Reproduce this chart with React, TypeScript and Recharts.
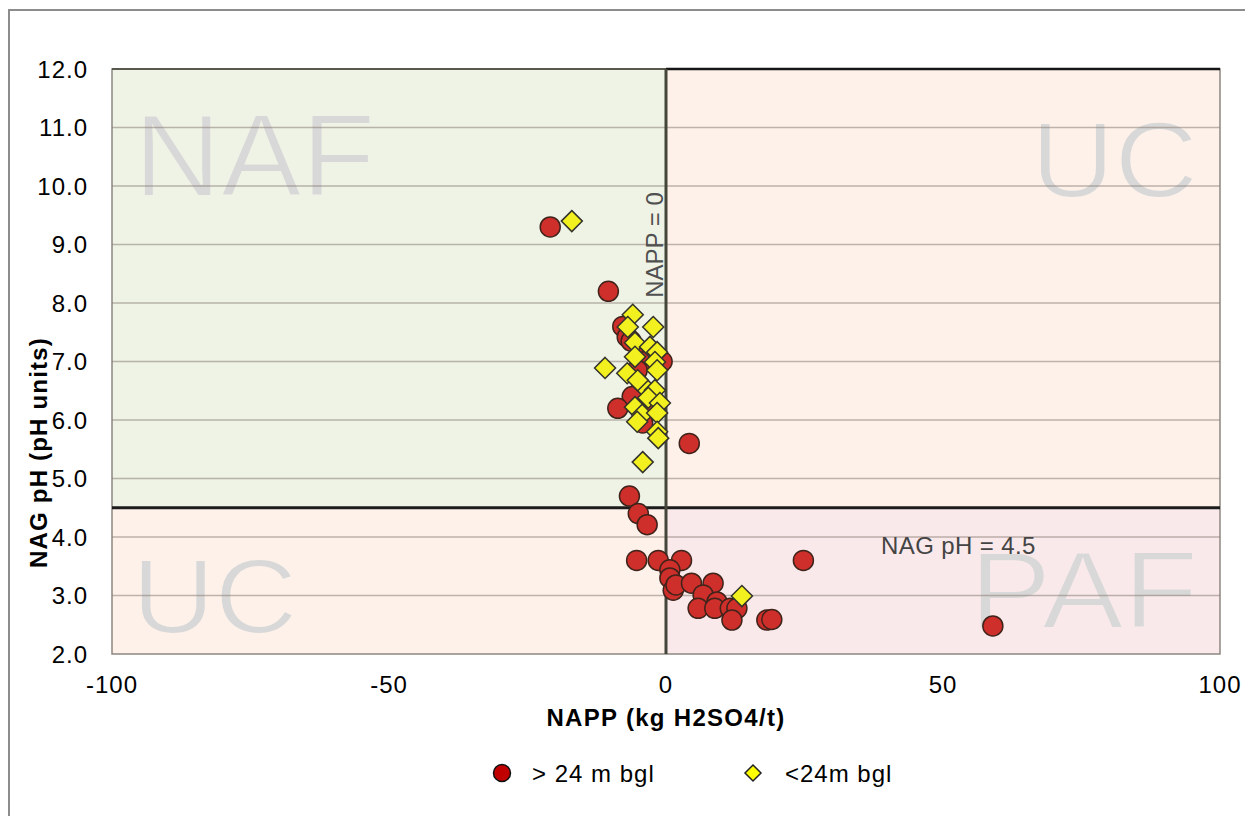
import React from 'react';
import { ScatterChart, Scatter, XAxis, YAxis, ReferenceArea, ReferenceLine, Legend } from 'recharts';

// NAPP (kg H2SO4/t), NAG pH
const deepSamples: [number, number][] = [
  [-20.9, 9.3], [-10.4, 8.2],
  [-7.8, 7.6], [-7.0, 7.42], [-6.3, 7.35], [-4.5, 7.1], [-3.8, 7.0], [-5.2, 6.85],
  [-0.7, 7.0], [-6.1, 6.4], [-8.7, 6.2], [-3.0, 6.3], [-4.2, 5.95],
  [4.2, 5.6],
  [-6.6, 4.7], [-5.0, 4.4], [-3.4, 4.21],
  [-5.3, 3.6], [-1.4, 3.6], [2.8, 3.6], [24.8, 3.6],
  [0.7, 3.44], [0.7, 3.3], [1.3, 3.09], [1.8, 3.18], [4.6, 3.21], [8.5, 3.21],
  [6.7, 3.01], [9.2, 2.89], [5.8, 2.78], [8.8, 2.78], [11.6, 2.78], [12.8, 2.78],
  [11.9, 2.58], [18.2, 2.58], [19.1, 2.59],
  [59.0, 2.48],
];

const shallowSamples: [number, number][] = [
  [-17.0, 9.4],
  [-6.0, 7.8], [-6.9, 7.59], [-2.3, 7.59], [-11.0, 6.89], [-7.0, 6.8],
  [-5.6, 7.32], [-5.6, 7.08], [-2.9, 7.25], [-1.6, 7.16], [-2.0, 6.99], [-1.6, 6.85],
  [-4.3, 6.6], [-5.1, 6.68], [-2.0, 6.51], [-3.2, 6.38], [-1.1, 6.29], [-5.6, 6.22],
  [-4.3, 6.09], [-5.2, 5.97], [-1.6, 6.12], [-1.6, 5.8], [-1.4, 5.69], [-4.2, 5.28],
  [13.7, 2.99],
];

const xTicks = [-100, -50, 0, 50, 100];
const yTicks = [2, 3, 4, 5, 6, 7, 8, 9, 10, 11, 12];
const xDomain: [number, number] = [-100, 100];
const yDomain: [number, number] = [2, 12];
const nappThreshold = 0;
const nagThreshold = 4.5;

const seriesNames = ['> 24 m bgl', '<24m bgl'];
const quadrantLabels = ['NAF', 'UC', 'UC', 'PAF'];

const deepData = deepSamples.map(([x, y]) => ({ x, y }));
const shallowData = shallowSamples.map(([x, y]) => ({ x, y }));

const FONT = "'Liberation Sans', Arial, sans-serif";

type QuadStyle = {
  fill: string;
  anchor: 'start' | 'end';
  dx: number;
  fromTop: boolean;
  dy: number;
  size: number;
  sx: number;
};

const quadrants = [
  { label: quadrantLabels[0], x1: xDomain[0], x2: nappThreshold, y1: nagThreshold, y2: yDomain[1],
    style: { fill: '#eff3e6', anchor: 'start', dx: 22, fromTop: true, dy: 127, size: 116, sx: 1.04 } as QuadStyle },
  { label: quadrantLabels[1], x1: nappThreshold, x2: xDomain[1], y1: nagThreshold, y2: yDomain[1],
    style: { fill: '#fdf1ea', anchor: 'end', dx: -22, fromTop: true, dy: 128, size: 108, sx: 1.07 } as QuadStyle },
  { label: quadrantLabels[2], x1: xDomain[0], x2: nappThreshold, y1: yDomain[0], y2: nagThreshold,
    style: { fill: '#fdf1ea', anchor: 'start', dx: 20, fromTop: false, dy: -21, size: 106, sx: 1.08 } as QuadStyle },
  { label: quadrantLabels[3], x1: nappThreshold, x2: xDomain[1], y1: yDomain[0], y2: nagThreshold,
    style: { fill: '#f9e9ea', anchor: 'end', dx: -22, fromTop: false, dy: -26, size: 110, sx: 1.11 } as QuadStyle },
];

const makeQuadShape = (label: string, s: QuadStyle) => (props: any) => {
  const { x, y, width, height } = props;
  const tx = s.anchor === 'start' ? x + s.dx : x + width + s.dx;
  const ty = s.fromTop ? y + s.dy : y + height + s.dy;
  return (
    <g>
      <rect x={x} y={y} width={width} height={height} fill={s.fill} />
      <text
        x={0}
        y={0}
        transform={`translate(${tx} ${ty}) scale(${s.sx} 1)`}
        textAnchor={s.anchor}
        fontFamily={FONT}
        fontSize={s.size}
        fill="#d8d8d8"
        stroke={s.fill}
        strokeWidth={2}
        paintOrder="fill"
      >
        {label}
      </text>
    </g>
  );
};

const RedDot = (p: any) => (
  <circle cx={p.cx} cy={p.cy} r={10} fill="#cf2f2a" stroke="#40231b" strokeWidth={1.5} />
);

const YellowDiamond = (p: any) => {
  const s = 10.5;
  return (
    <polygon
      points={`${p.cx},${p.cy - s} ${p.cx + s},${p.cy} ${p.cx},${p.cy + s} ${p.cx - s},${p.cy}`}
      fill="#f3f01f"
      stroke="#33332a"
      strokeWidth={1.5}
    />
  );
};

const renderLegend = () => (
  <svg width={1220} height={40} style={{ display: 'block' }}>
    <circle cx={502} cy={22} r={8.5} fill="#c00000" stroke="#111" strokeWidth={1.5} />
    <text x={532} y={31} fontFamily={FONT} fontSize={24} letterSpacing={1} fill="#000">
      {seriesNames[0]}
    </text>
    <polygon points="753,14 761,22 753,30 745,22" fill="#ffff00" stroke="#222" strokeWidth={1.5} />
    <text x={785} y={31} fontFamily={FONT} fontSize={24} letterSpacing={1} fill="#000">
      {seriesNames[1]}
    </text>
  </svg>
);

const tickStyle = { fontFamily: FONT, fontSize: 24, fill: '#000', letterSpacing: 1 };

export default function App() {
  return (
    <div style={{ position: 'absolute', left: 0, top: 0, width: 1245, height: 816, overflow: 'hidden', background: '#fff' }}>
      <div
        style={{
          position: 'absolute', left: 8, top: 9, width: 1300, height: 900,
          borderLeft: '2px solid #8c8c8c', borderTop: '2px solid #8c8c8c',
        }}
      />
      <div style={{ position: 'absolute', left: 0, top: 0 }}>
        <ScatterChart width={1245} height={816} margin={{ top: 69, right: 25, bottom: 25, left: 0 }}>
          <XAxis
            type="number"
            dataKey="x"
            domain={xDomain}
            ticks={xTicks}
            allowDataOverflow
            axisLine={false}
            tickLine={false}
            tickSize={0}
            tickMargin={22}
            height={97}
            tick={tickStyle}
            label={{
              content: (props: any) => {
                const vb = props.viewBox || { x: 112, y: 654, width: 1108, height: 97 };
                return (
                  <text x={vb.x + vb.width / 2} y={vb.y + 72} textAnchor="middle" fontFamily={FONT}
                    fontSize={24} fontWeight="bold" letterSpacing={1.3} fill="#000">
                    NAPP (kg H2SO4/t)
                  </text>
                );
              },
            }}
          />
          <YAxis
            type="number"
            dataKey="y"
            domain={yDomain}
            ticks={yTicks}
            allowDataOverflow
            axisLine={false}
            tickLine={false}
            tickSize={0}
            tickMargin={24}
            width={112}
            tick={tickStyle}
            tickFormatter={(v: number) => v.toFixed(1)}
            label={{
              content: (props: any) => {
                const vb = props.viewBox || { x: 0, y: 69, width: 112, height: 585 };
                const cx = vb.x + 38;
                const cy = vb.y + vb.height / 2 + 91;
                return (
                  <text x={cx} y={cy} transform={`rotate(-90 ${cx} ${cy})`} textAnchor="middle"
                    dominantBaseline="central" fontFamily={FONT} fontSize={24} fontWeight="bold"
                    letterSpacing={1.2} fill="#000">
                    NAG pH (pH units)
                  </text>
                );
              },
            }}
          />
          {quadrants.map((q, i) => (
            <ReferenceArea
              key={`q${i}`}
              x1={q.x1}
              x2={q.x2}
              y1={q.y1}
              y2={q.y2}
              shape={makeQuadShape(q.label, q.style)}
            />
          ))}
          {yTicks.filter((v) => v > yDomain[0] && v < yDomain[1]).map((v) => (
            <ReferenceLine key={`g${v}`} y={v} stroke="#8a7d74" strokeOpacity={0.55} strokeWidth={1.6} />
          ))}
          <ReferenceArea x1={xDomain[0]} x2={xDomain[1]} y1={yDomain[0]} y2={yDomain[1]}
            fill="none" fillOpacity={0} stroke="#8e8681" strokeWidth={1.5} />
          <ReferenceLine segment={[{ x: xDomain[0], y: yDomain[1] }, { x: nappThreshold, y: yDomain[1] }]}
            stroke="#3f4035" strokeWidth={1.5} />
          <ReferenceLine segment={[{ x: nappThreshold, y: yDomain[1] }, { x: xDomain[1], y: yDomain[1] }]}
            stroke="#151515" strokeWidth={2.5} />
          <ReferenceLine y={nagThreshold} stroke="#1c1c1c" strokeWidth={3}
            label={{
              content: (props: any) => {
                const vb = props.viewBox || { x: 112, y: 507, width: 1108 };
                return (
                  <text x={vb.x + 769} y={vb.y + 46} fontFamily={FONT} fontSize={24} letterSpacing={0.4} fill="#444">
                    NAG pH = 4.5
                  </text>
                );
              },
            }}
          />
          <ReferenceLine x={nappThreshold} stroke="#45463a" strokeWidth={3}
            label={{
              content: (props: any) => {
                const vb = props.viewBox || { x: 666, y: 69, height: 585 };
                const cx = vb.x - 3;
                const cy = vb.y + 176;
                return (
                  <text x={cx} y={cy} transform={`rotate(-90 ${cx} ${cy})`} textAnchor="middle"
                    fontFamily={FONT} fontSize={24} fill="#505050">
                    NAPP = 0
                  </text>
                );
              },
            }}
          />
          <Scatter name={seriesNames[0]} data={deepData} shape={RedDot} isAnimationActive={false} />
          <Scatter name={seriesNames[1]} data={shallowData} shape={YellowDiamond} isAnimationActive={false} />
          <Legend verticalAlign="bottom" height={40} content={renderLegend} />
        </ScatterChart>
      </div>
    </div>
  );
}
